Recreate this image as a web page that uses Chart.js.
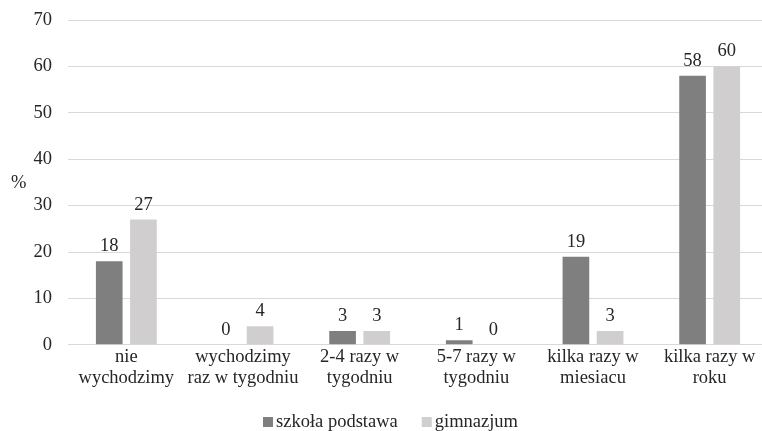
<!DOCTYPE html>
<html>
<head>
<meta charset="utf-8">
<script src="https://cdn.jsdelivr.net/npm/chart.js@4/dist/chart.umd.min.js"></script>
<style>
  html, body { margin: 0; padding: 0; background: #fff; overflow: hidden; }
  #wrap { width: 768px; height: 431px; position: relative; }
</style>
</head>
<body>
<div id="wrap"><canvas id="chart"></canvas></div>
<script>
// Chart data
const categories = [
    ['nie', 'wychodzimy'],
    ['wychodzimy', 'raz w tygodniu'],
    ['2-4 razy w', 'tygodniu'],
    ['5-7 razy w', 'tygodniu'],
    ['kilka razy w', 'miesiacu'],
    ['kilka razy w', 'roku']
];
const seriesNames = ['szkoła podstawa', 'gimnazjum'];
const szkolaPodstawa = [18, 0, 3, 1, 19, 58];
const gimnazjum = [27, 4, 3, 0, 3, 60];
const yTicks = [0, 10, 20, 30, 40, 50, 60, 70];
const seriesColors = ['#7f7f7f', '#d0cece'];

const FONT = "'Liberation Serif'";
const SIZE = 18.5;
const TEXT = '#262626';

// Value labels, "%" title and legend drawn by hand
const labelsPlugin = {
    id: 'valueLabels',
    afterDatasetsDraw(chart) {
        const ctx = chart.ctx;
        ctx.save();
        ctx.font = SIZE + 'px ' + FONT;
        ctx.fillStyle = TEXT;
        ctx.textAlign = 'center';
        ctx.textBaseline = 'alphabetic';
        chart.data.datasets.forEach((ds, i) => {
            chart.getDatasetMeta(i).data.forEach((bar, j) => {
                ctx.fillText(String(ds.data[j]), bar.x, bar.y - 10);
            });
        });

        // y axis title, horizontal
        const yScale = chart.scales.y;
        ctx.textAlign = 'left';
        ctx.textBaseline = 'middle';
        ctx.fillText('%', 11, yScale.getPixelForValue(34.8));

        // legend
        const gapText = 3, gapItem = 24, box = 10;
        const widths = chart.data.datasets.map(ds => ctx.measureText(ds.label).width);
        let total = 0;
        widths.forEach((w, i) => { total += box + gapText + w + (i ? gapItem : 0); });
        let x = 390.5 - total / 2;
        const y = 422;
        chart.data.datasets.forEach((ds, i) => {
            ctx.fillStyle = ds.backgroundColor;
            ctx.fillRect(x, y - 5, box, box);
            ctx.fillStyle = TEXT;
            ctx.fillText(ds.label, x + box + gapText, y);
            x += box + gapText + widths[i] + gapItem;
        });
        ctx.restore();
    }
};

function initializeChart() {
    const ctx = document.getElementById('chart').getContext('2d');
    new Chart(ctx, {
        type: 'bar',
        data: {
            labels: categories,
            datasets: [{
                label: seriesNames[0],
                data: szkolaPodstawa,
                backgroundColor: seriesColors[0],
                categoryPercentage: 0.586,
                barPercentage: 0.78
            }, {
                label: seriesNames[1],
                data: gimnazjum,
                backgroundColor: seriesColors[1],
                categoryPercentage: 0.586,
                barPercentage: 0.78
            }]
        },
        options: {
            responsive: true,
            maintainAspectRatio: false,
            animation: false,
            layout: { padding: { top: 20, right: 0, left: 0, bottom: 40 } },
            plugins: {
                tooltip: { enabled: false },
                legend: { display: false }
            },
            scales: {
                y: {
                    min: 0,
                    max: 70,
                    afterBuildTicks: (scale) => {
                        scale.ticks = yTicks.map(v => ({ value: v }));
                    },
                    afterFit: (scale) => {
                        scale.width = 68;
                        scale.paddingTop = 0;
                        scale.paddingBottom = 0;
                    },
                    border: { display: false },
                    grid: { color: '#d9d9d9', lineWidth: 1, drawTicks: false },
                    ticks: {
                        padding: 16,
                        color: TEXT,
                        font: { family: FONT, size: SIZE }
                    }
                },
                x: {
                    border: { color: '#d9d9d9' },
                    grid: { display: false, drawTicks: false, tickLength: 0 },
                    ticks: {
                        padding: 2,
                        maxRotation: 0,
                        autoSkip: false,
                        color: TEXT,
                        font: { family: FONT, size: SIZE, lineHeight: 1.14 }
                    }
                }
            }
        },
        plugins: [labelsPlugin]
    });
}

document.addEventListener('DOMContentLoaded', initializeChart);
</script>
</body>
</html>
